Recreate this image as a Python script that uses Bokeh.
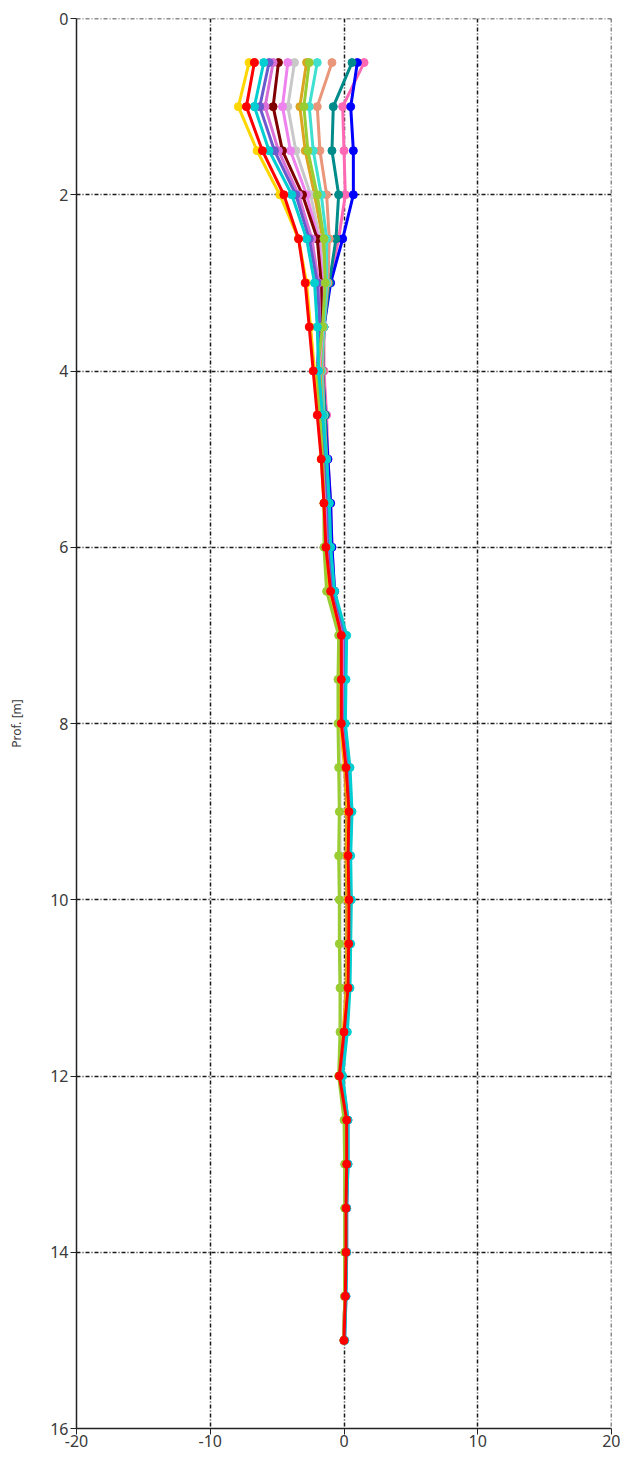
from bokeh.plotting import figure
from bokeh.models import Range1d, FixedTicker, Span
from bokeh.embed import file_html
from bokeh.resources import INLINE

depths = [0.5, 1.0, 1.5, 2.0, 2.5, 3.0, 3.5, 4.0, 4.5, 5.0, 5.5, 6.0, 6.5, 7.0, 7.5,
          8.0, 8.5, 9.0, 9.5, 10.0, 10.5, 11.0, 11.5, 12.0, 12.5, 13.0, 13.5, 14.0, 14.5, 15.0]

s_hotpink = [1.5, -0.1, 0.0, 0.1, -0.4, -1.1, -1.5, -1.5, -1.3, -1.2, -1.0, -0.9, -0.7, 0.0, 0.0, -0.1,
             0.2, 0.3, 0.25, 0.3, 0.3, 0.25, 0.05, -0.2, 0.2, 0.2, 0.15, 0.15, 0.1, 0.0]
s_blue = [1.0, 0.5, 0.7, 0.7, -0.1, -1.0, -1.5, -1.6, -1.4, -1.2, -1.0, -0.9, -0.7, 0.0, 0.0, -0.1,
          0.2, 0.3, 0.25, 0.3, 0.3, 0.25, 0.05, -0.2, 0.2, 0.2, 0.15, 0.15, 0.1, 0.0]
s_teal = [0.6, -0.8, -0.9, -0.4, -0.6, -1.1, -1.5, -1.6, -1.4, -1.3, -1.1, -1.0, -0.8, -0.1, -0.1, -0.1,
          0.15, 0.3, 0.25, 0.3, 0.3, 0.25, 0.05, -0.2, 0.2, 0.2, 0.15, 0.15, 0.1, 0.0]
s_salmon = [-0.9, -2.0, -1.8, -1.3, -1.1, -1.2, -1.5, -1.6, -1.5, -1.3, -1.2, -1.1, -0.9, -0.2, -0.2, -0.2,
            0.1, 0.25, 0.2, 0.25, 0.25, 0.2, 0.0, -0.25, 0.15, 0.15, 0.1, 0.1, 0.05, 0.0]
s_turquoise = [-2.0, -2.6, -2.3, -1.7, -1.3, -1.3, -1.5, -1.7, -1.5, -1.4, -1.2, -1.1, -0.9, -0.2, -0.2, -0.2,
               0.1, 0.25, 0.2, 0.25, 0.25, 0.2, 0.0, -0.25, 0.15, 0.15, 0.1, 0.1, 0.05, 0.0]
s_yellowgreen = [-2.6, -3.0, -2.7, -2.0, -1.5, -1.4, -1.6, -2.0, -1.8, -1.6, -1.5, -1.5, -1.3, -0.4, -0.45, -0.45,
                 -0.4, -0.35, -0.4, -0.35, -0.35, -0.3, -0.3, -0.4, 0.0, 0.05, 0.05, 0.05, 0.05, 0.0]
s_goldenrod = [-2.8, -3.3, -2.9, -2.2, -1.6, -1.5, -1.6, -1.8, -1.6, -1.4, -1.3, -1.2, -1.0, -0.3, -0.3, -0.3,
               0.05, 0.2, 0.15, 0.2, 0.2, 0.15, -0.05, -0.3, 0.1, 0.1, 0.1, 0.1, 0.05, 0.0]
s_lightgray = [-3.7, -4.2, -3.6, -2.5, -1.8, -1.5, -1.6, -1.9, -1.7, -1.5, -1.4, -1.3, -1.1, -0.3, -0.35, -0.35,
               -0.3, -0.3, -0.3, -0.3, -0.3, -0.25, -0.25, -0.35, 0.05, 0.1, 0.1, 0.1, 0.05, 0.0]
s_violet = [-4.2, -4.6, -4.0, -2.8, -1.9, -1.6, -1.6, -1.9, -1.7, -1.5, -1.3, -1.2, -1.0, -0.2, -0.2, -0.2,
            0.1, 0.3, 0.25, 0.3, 0.3, 0.25, 0.0, -0.3, 0.15, 0.15, 0.15, 0.1, 0.05, 0.0]
s_maroon = [-4.9, -5.3, -4.6, -3.1, -2.0, -1.7, -1.7, -2.0, -1.8, -1.5, -1.3, -1.2, -1.0, -0.2, -0.2, -0.2,
            0.1, 0.3, 0.25, 0.3, 0.3, 0.25, 0.0, -0.3, 0.15, 0.15, 0.15, 0.1, 0.05, 0.0]
s_plum = [-5.3, -5.9, -4.9, -3.4, -2.4, -1.9, -1.8, -2.0, -1.8, -1.5, -1.3, -1.2, -0.9, -0.1, -0.1, -0.1,
          0.2, 0.4, 0.35, 0.4, 0.4, 0.35, 0.1, -0.2, 0.25, 0.25, 0.2, 0.2, 0.1, 0.0]
s_blueviolet = [-5.6, -6.3, -5.2, -3.6, -2.6, -2.0, -1.8, -2.0, -1.7, -1.4, -1.2, -1.1, -0.8, 0.1, 0.1, 0.05,
                0.4, 0.55, 0.45, 0.5, 0.45, 0.4, 0.2, -0.15, 0.3, 0.3, 0.2, 0.2, 0.15, 0.05]
s_gold = [-7.1, -7.9, -6.5, -4.8, -3.4, -2.8, -2.5, -2.2, -1.9, -1.7, -1.5, -1.4, -1.1, -0.3, -0.3, -0.3,
          0.1, 0.3, 0.25, 0.3, 0.3, 0.25, -0.05, -0.35, 0.15, 0.15, 0.15, 0.1, 0.05, 0.0]
s_cyan = [-6.0, -6.7, -5.6, -3.9, -2.8, -2.2, -2.0, -1.9, -1.6, -1.3, -1.1, -1.0, -0.7, 0.2, 0.15, 0.1,
          0.45, 0.6, 0.5, 0.55, 0.5, 0.45, 0.25, -0.1, 0.3, 0.3, 0.2, 0.2, 0.15, 0.05]
s_red = [-6.7, -7.3, -6.1, -4.5, -3.4, -2.9, -2.6, -2.3, -2.0, -1.7, -1.5, -1.35, -1.0, -0.2, -0.2, -0.2,
         0.15, 0.37, 0.3, 0.37, 0.35, 0.3, 0.0, -0.35, 0.2, 0.2, 0.15, 0.15, 0.1, 0.0]

series = [
    (s_hotpink, "#FF69B4"),
    (s_blue, "#0000FF"),
    (s_teal, "#008B8B"),
    (s_salmon, "#E9967A"),
    (s_turquoise, "#40E0D0"),
    (s_goldenrod, "#DAA520"),
    (s_lightgray, "#C8C8C8"),
    (s_violet, "#EE82EE"),
    (s_maroon, "#800000"),
    (s_plum, "#DA70D6"),
    (s_blueviolet, "#6A5ACD"),
    (s_gold, "#FFD700"),
    (s_yellowgreen, "#9ACD32"),
    (s_cyan, "#00CED1"),
    (s_red, "#FF0000"),
]

x_ticks = [-20, -10, 0, 10, 20]
x_labels = ["-20", "-10", "0", "10", "20"]
y_ticks = [0, 2, 4, 6, 8, 10, 12, 14, 16]

p = figure(width=620, height=1465, output_backend="svg", toolbar_location=None,
           x_range=Range1d(-20, 20), y_range=Range1d(16, 0),
           min_border_left=76, min_border_right=9, min_border_top=18, min_border_bottom=37)
p.outline_line_color = None
p.background_fill_color = "white"

grid_color = "#1a1a1a"
grid_dash = "4 2 1 2"
for g in (p.xgrid[0], p.ygrid[0]):
    g.grid_line_color = grid_color
    g.grid_line_dash = grid_dash
    g.grid_line_width = 1.5

# frame-edge grid lines (top at 0 m, right at 20)
p.add_layout(Span(location=y_ticks[0], dimension="width", line_color=grid_color,
                  line_dash=grid_dash, line_width=1.5))
p.add_layout(Span(location=x_ticks[-1], dimension="height", line_color=grid_color,
                  line_dash=grid_dash, line_width=1.5))

for vals, col in series:
    p.line(vals, depths, line_color=col, line_width=3)
    p.scatter(vals, depths, size=8, fill_color=col, line_color=col)

p.xaxis.ticker = FixedTicker(ticks=x_ticks)
p.xaxis.major_label_overrides = {t: lab for t, lab in zip(x_ticks, x_labels)}
p.yaxis.ticker = FixedTicker(ticks=y_ticks)
for ax in (p.xaxis[0], p.yaxis[0]):
    ax.axis_line_color = "#222222"
    ax.axis_line_width = 1.5
    ax.major_tick_line_color = "#222222"
    ax.major_tick_out = 6
    ax.major_tick_in = 0
    ax.minor_tick_line_color = None
    ax.major_label_text_font = "Noto Sans"
    ax.major_label_text_font_size = "16px"
    ax.major_label_text_color = "#3a3a3a"
p.xaxis.major_label_standoff = 0
p.yaxis.major_label_standoff = 2
p.yaxis.axis_label = "Prof. [m]"
p.yaxis.axis_label_text_font = "Noto Sans"
p.yaxis.axis_label_text_font_style = "normal"
p.yaxis.axis_label_text_font_size = "12px"
p.yaxis.axis_label_text_color = "#3a3a3a"
p.yaxis.axis_label_standoff = 22

open("out.html", "w").write(file_html(p, INLINE))
